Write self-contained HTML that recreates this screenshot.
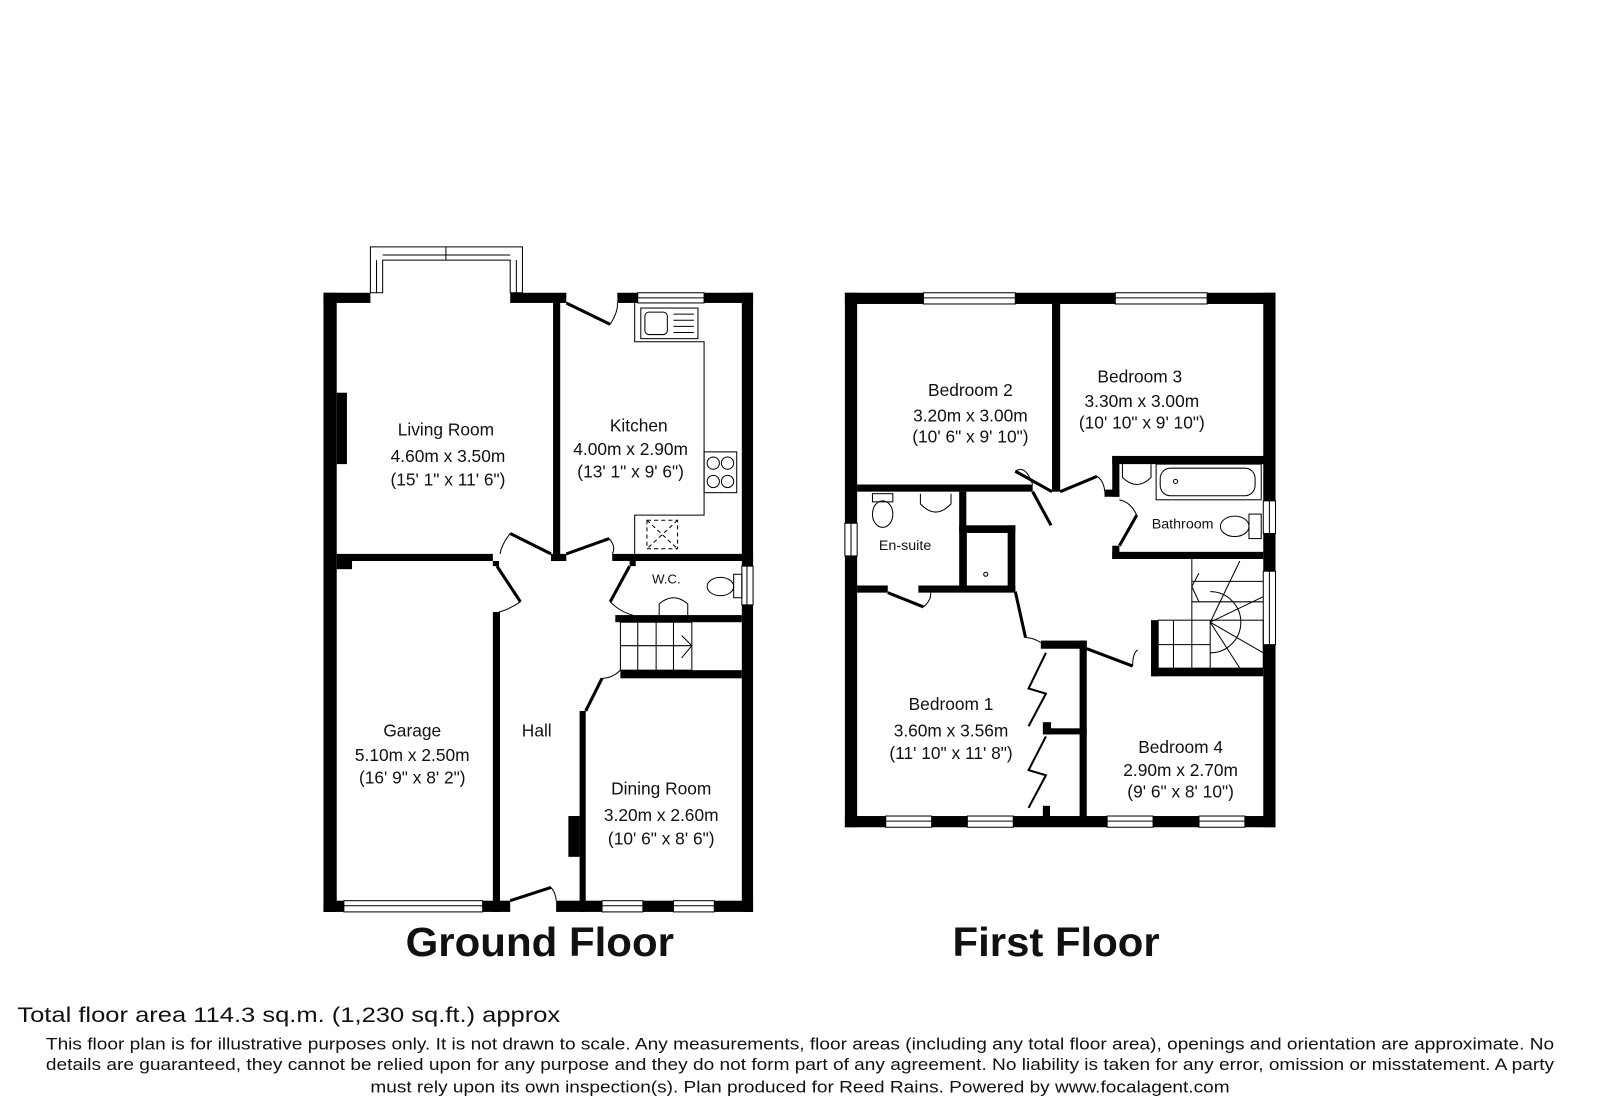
<!DOCTYPE html>
<html><head><meta charset="utf-8"><style>
html,body{margin:0;padding:0;background:#fff;width:1600px;height:1120px;overflow:hidden}
svg{display:block}
text{font-family:"Liberation Sans",Arial,sans-serif;fill:#111}
</style></head><body>
<svg width="1600" height="1120" viewBox="0 0 1568 1098" preserveAspectRatio="none" xmlns="http://www.w3.org/2000/svg">
<g fill="#000" stroke="none">
<rect x="317" y="287" width="13" height="607"/>
<rect x="317" y="287" width="46" height="10"/>
<rect x="500" y="287" width="55" height="10"/>
<rect x="605" y="287" width="20" height="10"/>
<rect x="690" y="287" width="48" height="10"/>
<rect x="727" y="287" width="11" height="607"/>
<rect x="317" y="883" width="20" height="11"/>
<rect x="473" y="883" width="27" height="11"/>
<rect x="545" y="883" width="45" height="11"/>
<rect x="630" y="883" width="30" height="11"/>
<rect x="700" y="883" width="38" height="11"/>
<rect x="542" y="297" width="7" height="253"/>
<rect x="330" y="543" width="153" height="7"/>
<rect x="540" y="543" width="15" height="7"/>
<rect x="600" y="543" width="138" height="7"/>
<rect x="330" y="550" width="15" height="8"/>
<rect x="483" y="550" width="6" height="5"/>
<rect x="617" y="550" width="6" height="5"/>
<rect x="483" y="600" width="7" height="294"/>
<rect x="603" y="603" width="124" height="7"/>
<rect x="608" y="657" width="119" height="8"/>
<rect x="568" y="697" width="6" height="197"/>
<rect x="557" y="800" width="11" height="40"/>
<rect x="330" y="385" width="10" height="70"/>
<rect x="828" y="287" width="12" height="524"/>
<rect x="828" y="287" width="77" height="11"/>
<rect x="995" y="287" width="98" height="11"/>
<rect x="1183" y="287" width="67" height="11"/>
<rect x="1238" y="287" width="12" height="204"/>
<rect x="1238" y="523" width="12" height="37"/>
<rect x="1238" y="632" width="12" height="179"/>
<rect x="828" y="800" width="40" height="11"/>
<rect x="913" y="800" width="35" height="11"/>
<rect x="993" y="800" width="92" height="11"/>
<rect x="1130" y="800" width="45" height="11"/>
<rect x="1220" y="800" width="30" height="11"/>
<rect x="1031" y="298" width="8" height="184"/>
<rect x="840" y="475" width="172" height="7"/>
<rect x="1090" y="447" width="155" height="8"/>
<rect x="1090" y="447" width="7" height="40"/>
<rect x="1083" y="480" width="14" height="7"/>
<rect x="1090" y="541" width="148" height="7"/>
<rect x="1090" y="535" width="7" height="13"/>
<rect x="940" y="482" width="7" height="98"/>
<rect x="940" y="515" width="55" height="7"/>
<rect x="988" y="515" width="7" height="65"/>
<rect x="840" y="574" width="30" height="7"/>
<rect x="900" y="574" width="95" height="7"/>
<rect x="1020" y="628" width="45" height="8"/>
<rect x="1058" y="628" width="7" height="172"/>
<rect x="1025" y="714" width="40" height="6"/>
<rect x="1022" y="708" width="8" height="12"/>
<rect x="1022" y="790" width="7" height="12"/>
<rect x="1128" y="608" width="7" height="55"/>
<rect x="1128" y="655" width="110" height="8"/>
</g>
<g fill="#fff" stroke="#000" stroke-width="1">
<path d="M363 287 V242 H512 V287 H500 V255 H375 V287 Z"/>
<line x1="375" y1="250" x2="500" y2="250"/><line x1="437" y1="242" x2="437" y2="255"/>
<line x1="369" y1="255" x2="369" y2="287"/><line x1="506" y1="255" x2="506" y2="287"/>
<rect x="625" y="287" width="65" height="10"/><line x1="625" y1="292" x2="690" y2="292"/>
<rect x="337" y="883" width="136" height="11"/><line x1="337" y1="888" x2="473" y2="888"/>
<rect x="590" y="883" width="40" height="11"/><line x1="590" y1="888" x2="630" y2="888"/>
<rect x="660" y="883" width="40" height="11"/><line x1="660" y1="888" x2="700" y2="888"/>
<rect x="727" y="555" width="11" height="38"/><line x1="732" y1="555" x2="732" y2="593"/>
<rect x="905" y="287" width="90" height="11"/><line x1="905" y1="292" x2="995" y2="292"/>
<rect x="1093" y="287" width="90" height="11"/><line x1="1093" y1="292" x2="1183" y2="292"/>
<rect x="868" y="800" width="45" height="11"/><line x1="868" y1="805" x2="913" y2="805"/>
<rect x="948" y="800" width="45" height="11"/><line x1="948" y1="805" x2="993" y2="805"/>
<rect x="1085" y="800" width="45" height="11"/><line x1="1085" y1="805" x2="1130" y2="805"/>
<rect x="1175" y="800" width="45" height="11"/><line x1="1175" y1="805" x2="1220" y2="805"/>
<rect x="828" y="513" width="12" height="32"/><line x1="834" y1="513" x2="834" y2="545"/>
<rect x="1238" y="491" width="12" height="32"/><line x1="1244" y1="491" x2="1244" y2="523"/>
<rect x="1238" y="560" width="12" height="72"/><line x1="1244" y1="560" x2="1244" y2="632"/>
</g>
<g fill="none" stroke="#000" stroke-width="3">
<line x1="555" y1="297" x2="598" y2="318"/>
<line x1="500" y1="523" x2="540" y2="543"/>
<line x1="555" y1="543" x2="597" y2="528"/>
<line x1="487" y1="555" x2="510" y2="590"/>
<line x1="617" y1="555" x2="598" y2="590"/>
<line x1="500" y1="883" x2="540" y2="870"/>
<line x1="574" y1="697" x2="590" y2="665"/>
<line x1="1012" y1="482" x2="1030" y2="515"/>
<line x1="995" y1="462" x2="1031" y2="482"/>
<line x1="1039" y1="482" x2="1075" y2="467"/>
<line x1="1097" y1="535" x2="1114" y2="505"/>
<line x1="870" y1="581" x2="905" y2="595"/>
<line x1="995" y1="580" x2="1005" y2="625"/>
<line x1="1065" y1="636" x2="1110" y2="653"/>
<polyline points="1025,640 1008,675 1025,680 1008,712" stroke-width="2"/>
<polyline points="1025,722 1008,755 1025,760 1008,792" stroke-width="2"/>
</g>
<g fill="none" stroke="#000" stroke-width="1">
<path d="M598 318 Q606 305 605 297"/><path d="M500 523 Q492 533 490 543"/><path d="M597 528 Q604 536 600 543"/>
<path d="M510 590 Q500 597 489 600"/><path d="M598 590 Q608 600 620 603"/><path d="M540 870 Q545 876 545 883"/>
<path d="M590 665 Q600 665 608 657"/>
<path d="M995 462 Q1005 455 1012 475"/><path d="M1075 467 Q1083 472 1083 487"/><path d="M1114 505 Q1108 492 1097 490"/>
<path d="M905 595 Q913 588 912 581"/><path d="M1005 625 Q1012 625 1020 630"/><path d="M1110 653 Q1110 640 1115 637"/>
<path d="M622 297 V335 H690 V505 H622 V543"/>
<rect x="628" y="302" width="56" height="30"/><rect x="632" y="306" width="22" height="22" rx="4"/>
<line x1="660" y1="308" x2="680" y2="308"/><line x1="660" y1="314" x2="680" y2="314"/><line x1="660" y1="320" x2="680" y2="320"/><line x1="660" y1="326" x2="680" y2="326"/>
<rect x="690" y="443" width="32" height="40"/>
<circle cx="699" cy="454" r="6"/><circle cx="713" cy="454" r="6"/><circle cx="699" cy="472" r="6"/><circle cx="713" cy="472" r="6"/>
<rect x="634" y="510" width="30" height="28" stroke-dasharray="4,3"/><line x1="634" y1="510" x2="664" y2="538" stroke-dasharray="4,3"/><line x1="664" y1="510" x2="634" y2="538" stroke-dasharray="4,3"/>
<ellipse cx="706" cy="575" rx="13" ry="9"/><rect x="719" y="563" width="8" height="23"/>
<path d="M646 605 V592 Q660 580 674 592 V605"/>
<rect x="608" y="610" width="70" height="47"/>
<line x1="608" y1="633" x2="678" y2="633"/>
<line x1="625" y1="610" x2="625" y2="657"/><line x1="643" y1="610" x2="643" y2="657"/><line x1="660" y1="610" x2="660" y2="657"/>
<polyline points="668,623 678,633 668,645"/>
<rect x="855" y="484" width="20" height="8"/><ellipse cx="865" cy="504" rx="10" ry="13"/>
<path d="M902 484 V494 Q917 510 932 494 V484"/>
<rect x="947" y="522" width="41" height="53"/><circle cx="966" cy="563" r="2"/>
<path d="M1100 455 V468 Q1114 482 1128 468 V455"/>
<rect x="1133" y="455" width="103" height="35"/><rect x="1137" y="459" width="93" height="27" rx="10"/><circle cx="1152" cy="472" r="2"/>
<ellipse cx="1210" cy="516" rx="14" ry="10"/><rect x="1224" y="504" width="12" height="24"/>
<rect x="1135" y="608" width="103" height="47"/>
<line x1="1150" y1="608" x2="1150" y2="655"/><line x1="1168" y1="608" x2="1168" y2="655"/><line x1="1186" y1="608" x2="1186" y2="655"/>
<line x1="1135" y1="632" x2="1186" y2="632"/>
<path d="M1168 548 V608"/><line x1="1168" y1="570" x2="1238" y2="570"/><line x1="1168" y1="590" x2="1238" y2="590"/>
<path d="M1186 580 A30 30 0 0 1 1186 640"/>
<line x1="1186" y1="610" x2="1215" y2="550"/><line x1="1186" y1="610" x2="1238" y2="585"/>
<line x1="1186" y1="610" x2="1238" y2="640"/><line x1="1186" y1="610" x2="1215" y2="655"/>
<polyline points="1175,562 1168,575 1175,590"/>
</g>
<g font-size="17" text-anchor="middle">
<text x="437" y="427">Living Room</text><text x="439" y="453">4.60m x 3.50m</text><text x="439" y="476">(15' 1" x 11' 6")</text>
<text x="626" y="423">Kitchen</text><text x="618" y="446">4.00m x 2.90m</text><text x="618" y="468">(13' 1" x 9' 6")</text>
<text x="653" y="572" font-size="13">W.C.</text>
<text x="404" y="722">Garage</text><text x="404" y="746">5.10m x 2.50m</text><text x="404" y="768">(16' 9" x 8' 2")</text>
<text x="526" y="722">Hall</text>
<text x="648" y="779">Dining Room</text><text x="648" y="805">3.20m x 2.60m</text><text x="648" y="828">(10' 6" x 8' 6")</text>
<text x="951" y="388">Bedroom 2</text><text x="951" y="413">3.20m x 3.00m</text><text x="951" y="434">(10' 6" x 9' 10")</text>
<text x="1117" y="375">Bedroom 3</text><text x="1119" y="399">3.30m x 3.00m</text><text x="1119" y="420">(10' 10" x 9' 10")</text>
<text x="1159" y="518" font-size="14">Bathroom</text>
<text x="887" y="539" font-size="14">En-suite</text>
<text x="932" y="696">Bedroom 1</text><text x="932" y="722">3.60m x 3.56m</text><text x="932" y="744">(11' 10" x 11' 8")</text>
<text x="1157" y="738">Bedroom 4</text><text x="1157" y="761">2.90m x 2.70m</text><text x="1157" y="782">(9' 6" x 8' 10")</text>
</g>
<text x="529" y="937" font-size="40" font-weight="bold" text-anchor="middle" textLength="263" lengthAdjust="spacingAndGlyphs">Ground Floor</text>
<text x="1035" y="937" font-size="40" font-weight="bold" text-anchor="middle" textLength="203" lengthAdjust="spacingAndGlyphs">First Floor</text>
<text x="17" y="1002" font-size="21" textLength="532" lengthAdjust="spacingAndGlyphs">Total floor area 114.3 sq.m. (1,230 sq.ft.) approx</text>
<g font-size="16">
<text x="45" y="1029" textLength="1478" lengthAdjust="spacingAndGlyphs">This floor plan is for illustrative purposes only. It is not drawn to scale. Any measurements, floor areas (including any total floor area), openings and orientation are approximate. No</text>
<text x="45" y="1049" textLength="1478" lengthAdjust="spacingAndGlyphs">details are guaranteed, they cannot be relied upon for any purpose and they do not form part of any agreement. No liability is taken for any error, omission or misstatement. A party</text>
<text x="363" y="1071" textLength="842" lengthAdjust="spacingAndGlyphs">must rely upon its own inspection(s). Plan produced for Reed Rains. Powered by www.focalagent.com</text>
</g>
</svg>
</body></html>
